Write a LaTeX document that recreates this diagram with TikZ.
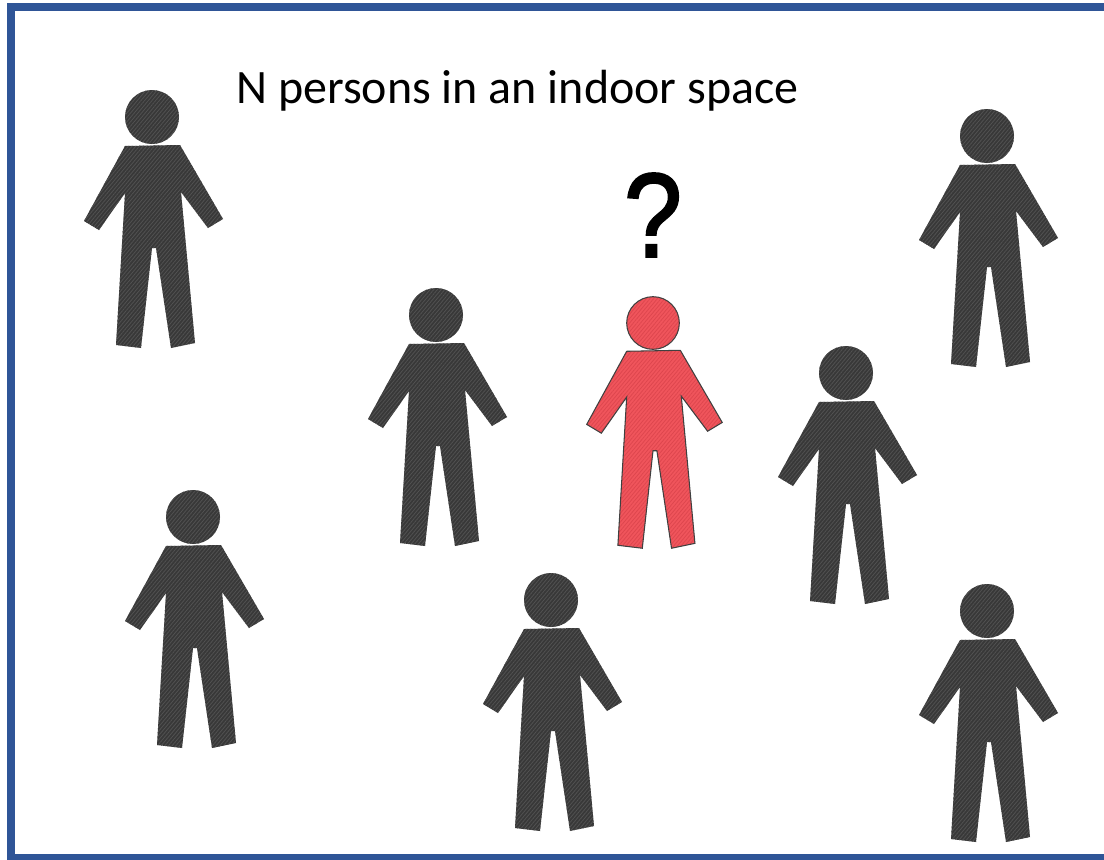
\documentclass[tikz,border=0pt]{standalone}
\usepackage{fontspec}
\usepackage{xcolor}
\usepackage{tikz}
\usetikzlibrary{patterns.meta}
\setmainfont{Carlito}
\newfontfamily\markfont[FakeBold=2]{Liberation Sans}
\definecolor{frameblue}{HTML}{2F5597}
\definecolor{darkfill}{HTML}{383838}
\definecolor{darkhatch}{HTML}{525252}
\definecolor{redfill}{HTML}{F0555C}
\definecolor{redhatch}{HTML}{DE464E}
\tikzset{
  x=0.02cm, y=-0.02cm,
  frame/.style={draw=frameblue, line width=0.16cm},
  title/.style={font=\fontsize{27.3}{32}\selectfont, anchor=base west, inner sep=0pt},
  qmark/.style={font=\markfont\fontsize{68}{80}\selectfont, inner sep=0pt},
  hatching/.style={pattern={Lines[angle=50,distance=1.6pt,line width=0.45pt]}, pattern color=#1},
  personshape/.style={insert path={
    (0,0) circle (27)
    (-27,29) -- (28,28) -- (71,102) -- (56,111) -- (29,75)
    -- (43,226) -- (19,231) -- (4,131) -- (0,131) -- (-11,231) -- (-36,228) -- (-27,76)
    -- (-53,113) -- (-68,104) -- cycle}},
  person/.pic={
    \fill[#1fill, personshape];
    \path[hatching=#1hatch, pic actions, personshape];
  },
}
\begin{document}
\begin{tikzpicture}
  \useasboundingbox (0,0) rectangle (1104,859);
  \fill[white] (0,0) rectangle (1104,859);
  \draw[frame] (11,7) rectangle (1120,858);
  \node[title] (caption) at (236,103) {N persons in an indoor space};
  \node[qmark] (question) at (653,215) {\scalebox{0.87}[1]{?}};
  % dark persons
  \foreach \hx/\hy in {152/117, 987/136, 436/315, 846/373, 193/517, 551/600, 987/611} {
    \pic at (\hx,\hy) {person=dark};
  }
  % the one in question
  \pic[draw=black!75, line width=0.6pt, scale=0.975] at (653,323) {person=red};
\end{tikzpicture}
\end{document}
